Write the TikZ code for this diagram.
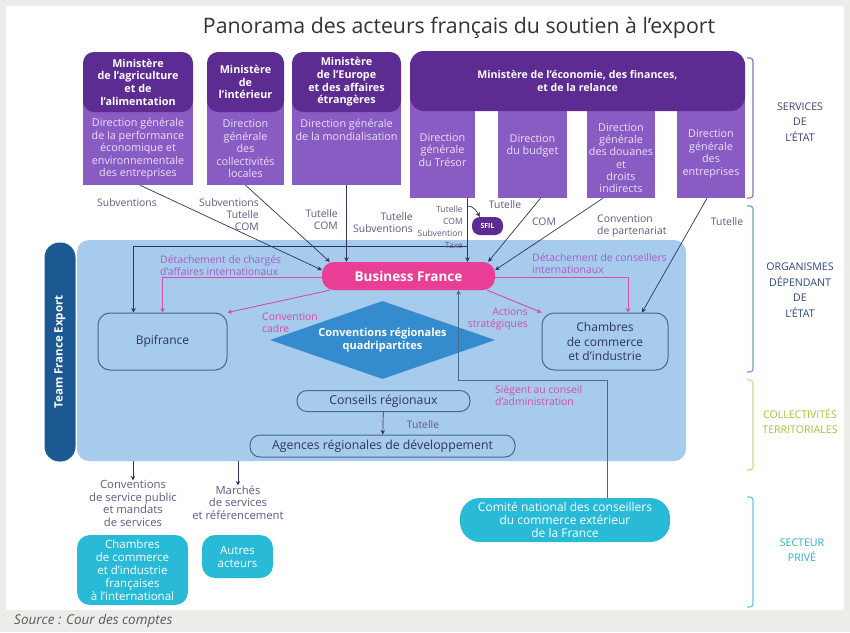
\documentclass[tikz,border=0pt]{standalone}
\usepackage{fontspec}
\setmainfont{Open Sans}
\usetikzlibrary{arrows.meta,shapes.geometric,calc}
\definecolor{bgc}{RGB}{238,236,233}
\definecolor{phdr}{RGB}{92,44,146}
\definecolor{plow}{RGB}{137,92,196}
\definecolor{plowtxt}{RGB}{234,224,250}
\definecolor{regc}{RGB}{166,203,237}
\definecolor{tfec}{RGB}{28,88,145}
\definecolor{bfc}{RGB}{232,62,150}
\definecolor{diac}{RGB}{52,140,206}
\definecolor{oboxc}{RGB}{72,104,142}
\definecolor{cyanc}{RGB}{40,186,214}
\definecolor{conc}{RGB}{48,52,96}
\definecolor{pinkc}{RGB}{214,78,162}
\definecolor{detc}{RGB}{170,92,196}
\definecolor{lblc}{RGB}{98,88,132}
\definecolor{titc}{RGB}{50,50,58}
\definecolor{bserv}{RGB}{140,112,196}
\definecolor{borg}{RGB}{110,165,190}
\definecolor{bcol}{RGB}{196,224,140}
\definecolor{bpriv}{RGB}{110,200,222}
\definecolor{tserv}{RGB}{70,60,120}
\definecolor{torg}{RGB}{45,70,130}
\definecolor{tcol}{RGB}{160,200,60}
\definecolor{tpriv}{RGB}{40,176,206}
\newcommand\hdrfnt{\fontsize{10.8}{12.7}\selectfont\bfseries}
\newcommand\bodyfnt{\fontsize{10.8}{12.5}\selectfont}
\newcommand\lblfnt{\fontsize{10.4}{12}\selectfont}
\newcommand\boxfnt{\fontsize{12}{14.5}\selectfont}
\newcommand\cfnt{\fontsize{11.5}{13}\selectfont}
\newcommand\sidefnt{\fontsize{10.6}{15.5}\selectfont}
\tikzset{
  hdr/.style={fill=phdr, rounded corners=11pt, text=white, font=\hdrfnt, align=center, inner sep=0pt},
  low/.style={fill=plow, inner sep=0pt},
  lowtxt/.style={text=plowtxt, font=\bodyfnt, align=center, inner sep=0pt},
  lbl/.style={text=lblc, font=\lblfnt, inner sep=0pt},
  plbl/.style={text=pinkc, font=\lblfnt, inner sep=0pt},
  con/.style={draw=conc, line width=0.7pt, -{Stealth[length=4.5pt,width=4.5pt]}},
  pcon/.style={draw=pinkc, line width=0.9pt, -{Stealth[length=4.5pt,width=4.5pt]}},
  obox/.style={draw=oboxc, line width=1pt, rounded corners=12pt, font=\boxfnt, align=center, text=conc, inner sep=0pt},
  cbox/.style={fill=cyanc, rounded corners=13pt, text=white, align=center, font=\cfnt, inner sep=0pt},
  brk/.style={line width=1.2pt, rounded corners=3pt},
  side/.style={font=\sidefnt, align=center, inner sep=0pt},
}
\begin{document}
\begin{tikzpicture}[x=1pt,y=-1pt]
\useasboundingbox (0,0) rectangle (850,632);
\fill[bgc] (0,0) rectangle (850,632);
\fill[white] (6,6) rectangle (844,610);

\node[font=\fontsize{21.3}{24}\selectfont, text=titc, inner sep=0pt] (title) at (459,28) {Panorama des acteurs français du soutien à l'export};

% ministries
\node[low, minimum width=110pt, minimum height=90pt] (agriB) at (138,140) {};
\node[hdr, minimum width=110pt, minimum height=60pt] (agriH) at (138,82) {Ministère\\de l'agriculture\\et de\\l'alimentation};
\node[lowtxt] (agriT) at (138,149) {Direction générale\\de la performance\\économique et\\environnementale\\des entreprises};

\node[low, minimum width=77pt, minimum height=90pt] (interB) at (245.5,140) {};
\node[hdr, minimum width=77pt, minimum height=60pt] (interH) at (245.5,82) {Ministère\\de\\l'intérieur};
\node[lowtxt] (interT) at (245.5,149) {Direction\\générale\\des\\collectivités\\locales};

\node[low, minimum width=109pt, minimum height=90pt] (euroB) at (346.5,140) {};
\node[hdr, minimum width=109pt, minimum height=60pt] (euroH) at (346.5,82) {Ministère\\de l'Europe\\et des affaires\\étrangères};
\node[lowtxt] (euroT) at (346.5,130) {Direction générale\\de la mondialisation};

\node[low, minimum width=65pt, minimum height=103pt] (tresor) at (442.5,146.5) {};
\node[low, minimum width=69pt, minimum height=103pt] (budget) at (532.5,146.5) {};
\node[low, minimum width=68pt, minimum height=103pt] (douanes) at (621,146.5) {};
\node[low, minimum width=68pt, minimum height=103pt] (entr) at (711,146.5) {};
\node[hdr, minimum width=335pt, minimum height=60pt, rounded corners=14pt, font=\fontsize{10.6}{13}\selectfont\bfseries] (ecoH) at (577.5,81) {Ministère de l'économie, des finances,\\et de la relance};
\node[lowtxt] (tresorT) at (442.5,150) {Direction\\générale\\du Trésor};
\node[lowtxt] (budgetT) at (532.5,146) {Direction\\du budget};
\node[lowtxt, font=\fontsize{10.8}{12.2}\selectfont] (douanesT) at (621,158) {Direction\\générale\\des douanes\\et\\droits\\indirects};
\node[lowtxt] (entrT) at (711,154) {Direction\\générale\\des\\entreprises};

% side brackets
\draw[brk, draw=bserv] (747,58) -- (753,58) -- (753,198) -- (747,198);
\draw[brk, draw=borg] (747,206) -- (753,206) -- (753,372) -- (747,372);
\draw[brk, draw=bcol] (747,380) -- (753,380) -- (753,470) -- (747,470);
\draw[brk, draw=bpriv] (747,497) -- (753,497) -- (753,607) -- (747,607);
\node[side, text=tserv] (lserv) at (800,122) {SERVICES\\DE\\L'ÉTAT};
\node[side, text=torg] (lorg) at (800,290) {ORGANISMES\\DÉPENDANT\\DE\\L'ÉTAT};
\node[side, text=tcol] (lcol) at (800,421) {COLLECTIVITÉS\\TERRITORIALES};
\node[side, text=tpriv] (lpriv) at (802,550) {SECTEUR\\PRIVÉ};

% Team France Export region
\node[fill=regc, rounded corners=12pt, minimum width=609pt, minimum height=221pt, inner sep=0pt] (region) at (381.5,350.5) {};
\node[fill=tfec, rounded corners=15pt, minimum width=219pt, minimum height=31pt, inner sep=0pt, text=white, font=\fontsize{11.5}{13}\selectfont\bfseries, rotate=90] (tfe) at (60,352) {Team France Export};

\node[fill=bfc, rounded corners=12pt, minimum width=173pt, minimum height=28pt, inner sep=0pt, text=white, font=\fontsize{13.5}{15}\selectfont\bfseries] (bf) at (408.5,276) {Business France};
\node[obox, minimum width=129pt, minimum height=57pt] (bpi) at (162.5,341.5) {Bpifrance};
\node[obox, minimum width=126pt, minimum height=57pt] (cci) at (605,341.5) {Chambres\\de commerce\\et d'industrie};
\node[diamond, aspect=2.9, fill=diac, minimum width=225pt, minimum height=78pt, inner sep=0pt, text=white, align=center, font=\fontsize{11}{13.5}\selectfont\bfseries] (dia) at (382.5,340) {Conventions régionales\\quadripartites};
\node[obox, rounded corners=10pt, minimum width=173pt, minimum height=21pt, font=\fontsize{12.3}{14}\selectfont] (cr) at (383.5,401) {Conseils régionaux};
\node[obox, rounded corners=10pt, minimum width=265pt, minimum height=22pt, font=\fontsize{12.3}{14}\selectfont] (ard) at (382.5,446) {Agences régionales de développement};

\node[fill=phdr, rounded corners=8pt, minimum width=31pt, minimum height=18pt, inner sep=0pt, text=white, font=\fontsize{7}{8}\selectfont\bfseries] (sfil) at (487.5,226) {SFIL};

% private sector
\node[cbox, minimum width=210pt, minimum height=44pt, rounded corners=20pt, font=\fontsize{12}{13}\selectfont] (cnc) at (565,520) {Comité national des conseillers\\du commerce extérieur\\de la France};
\node[cbox, minimum width=111pt, minimum height=70pt] (ccifi) at (132.5,570) {Chambres\\de commerce\\et d'industrie\\françaises\\à l'international};
\node[cbox, minimum width=71pt, minimum height=43pt] (autres) at (237.5,556.5) {Autres\\acteurs};
\node[lbl, align=center, font=\fontsize{11.3}{12.5}\selectfont] (conv) at (133,503.5) {Conventions\\de service public\\et mandats\\de services};
\node[lbl, align=center, font=\fontsize{11.3}{12.5}\selectfont] (march) at (238,502.5) {Marchés\\de services\\et référencement};

\node[text=black!65, font=\fontsize{13.5}{15}\selectfont\itshape, anchor=west, inner sep=0pt] (src) at (14,621) {Source : Cour des comptes};

% ministry connectors
\draw[con] ([xshift=2pt]agriB.south) -- ([yshift=6pt]bf.west);
\draw[con] (interB.south) -- ([xshift=8pt]bf.north west);
\draw[con] (euroB.south) -- (euroB.south |- bf.north);
\coordinate (tA) at ([xshift=25pt]tresor.south);
\draw[con] (tA) -- (tA |- bf.north);
\coordinate (tS) at (467.5,206);
\draw[con] (tS) to[out=0,in=120] (sfil.130);
\coordinate (tB) at (467.5,246);
\draw[con] (tB) -| ([xshift=-29pt]bpi.north);
\draw[con] ([xshift=8pt]budget.south) -- ([xshift=-7pt]bf.north east);
\draw[con] ([xshift=-18pt]douanes.south) -- ([yshift=6pt]bf.east);
\draw[con] ([xshift=-4pt]entr.south) -- ([xshift=37pt]cci.north);

% Business France connectors
\draw[pcon] ([yshift=-1pt]bf.west) -| (bpi.north);
\draw[pcon] ([yshift=-1pt]bf.east) -| ([xshift=23pt]cci.north);
\draw[pcon] ([xshift=8pt]bf.south west) -- (bpi.north east);
\draw[pcon] ([xshift=-8pt]bf.south east) -- (cci.north west);
\coordinate (cb) at (458.5,380);
\draw[con, draw=oboxc] ([xshift=42pt]cnc.north) |- (cb) -- (cb |- bf.south);
\draw[con] (cr) -- (ard);
\draw[con] ([xshift=-248.5pt]region.south) -- (conv.north);
\draw[con] ([xshift=-143.5pt]region.south) -- (march.north);

% labels
\node[lbl] (l1) at (127,203) {Subventions};
\node[lbl, align=right, anchor=east] (l2) at (259,215) {Subventions\\Tutelle\\COM};
\node[lbl, align=right, anchor=east] (l3) at (338,220) {Tutelle\\COM};
\node[lbl, align=right, anchor=east] (l4) at (413,223) {Tutelle\\Subventions};
\node[lbl, align=right, anchor=east, font=\fontsize{8.6}{12}\selectfont] (l5) at (463,227) {Tutelle\\COM\\Subvention\\Taxe};
\node[lbl] (l6) at (505,205) {Tutelle};
\node[lbl] (l7) at (544,222) {COM};
\node[lbl, align=left, anchor=west] (l8) at (597,226) {Convention\\de partenariat};
\node[lbl] (l9) at (727,222) {Tutelle};
\node[lbl] (l10) at (423,425) {Tutelle};
\node[plbl, text=detc, align=left, anchor=west] (p1) at (160,266) {Détachement de chargés\\d'affaires internationaux};
\node[plbl, text=detc, align=left, anchor=west] (p2) at (532,264) {Détachement de conseillers\\internationaux};
\node[plbl, align=left, anchor=west] (p3) at (262,323) {Convention\\cadre};
\node[plbl, align=right, anchor=east] (p4) at (528,319) {Actions\\stratégiques};
\node[plbl, align=left, anchor=west] (p5) at (495,396) {Siègent au conseil\\d'administration};
\end{tikzpicture}
\end{document}
